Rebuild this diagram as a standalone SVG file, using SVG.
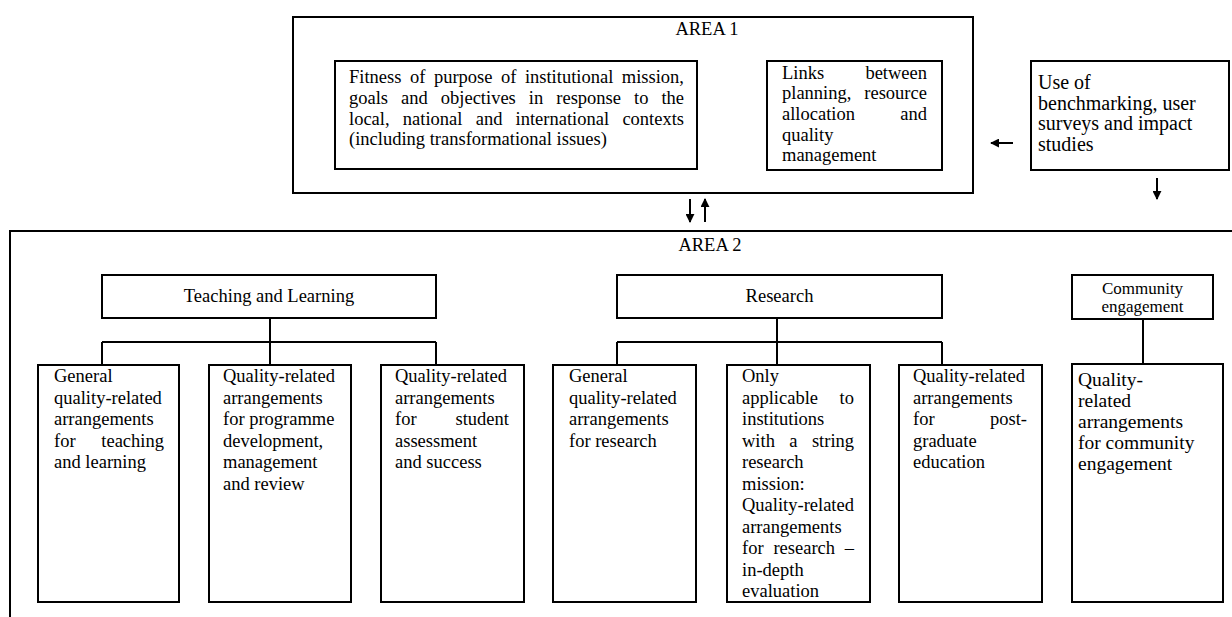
<svg xmlns="http://www.w3.org/2000/svg" width="1232" height="617" viewBox="0 0 1232 617">
  <style>
    text { font-family: "Liberation Serif", "Times New Roman", serif; font-size: 18.5px; fill: #000; }
    .box { fill: #fff; stroke: #000; stroke-width: 2; }
    .frame { fill: none; stroke: #000; stroke-width: 2; }
    .link { fill: none; stroke: #000; stroke-width: 2; }
    .arrow { fill: none; stroke: #000; stroke-width: 2; marker-end: url(#head); }
    .c { text-anchor: middle; }
    .small { font-size: 17px; }
    .large { font-size: 20px; }
    .mid { font-size: 19.5px; }
  </style>
  <defs>
    <marker id="head" viewBox="0 0 10 10" refX="9" refY="5" markerWidth="4.5" markerHeight="4.5" orient="auto" markerUnits="strokeWidth">
      <path d="M0,0 L10,5 L0,10 Z" fill="#000"/>
    </marker>
  </defs>

  <!-- Area 1 frame -->
  <g id="area1">
    <rect class="frame" x="293" y="17" width="680" height="176"/>
    <text class="c" x="707" y="35">AREA 1</text>
  </g>

  <g id="fitness">
    <rect class="box" x="335" y="61" width="362" height="108"/>
    <text y="83"><tspan x="349">Fitness</tspan><tspan x="409.9">of</tspan><tspan x="433.9">purpose</tspan><tspan x="500.9">of</tspan><tspan x="524.9">institutional</tspan><tspan x="621.8">mission,</tspan></text>
    <text y="104"><tspan x="349">goals</tspan><tspan x="401.1">and</tspan><tspan x="440.8">objectives</tspan><tspan x="528.8">in</tspan><tspan x="556.3">response</tspan><tspan x="634">to</tspan><tspan x="661.4">the</tspan></text>
    <text y="124.5"><tspan x="349">local,</tspan><tspan x="402.8">national</tspan><tspan x="475.7">and</tspan><tspan x="515.6">international</tspan><tspan x="622.4">contexts</tspan></text>
    <text x="349" y="145">(including transformational issues)</text>
  </g>

  <g id="links">
    <rect class="box" x="767" y="61" width="175" height="109"/>
    <text y="78.5"><tspan x="782">Links</tspan><tspan x="865.4">between</tspan></text>
    <text y="99.2"><tspan x="782">planning,</tspan><tspan x="864.3">resource</tspan></text>
    <text y="119.8"><tspan x="782">allocation</tspan><tspan x="900.3">and</tspan></text>
    <text x="782" y="140.5">quality</text>
    <text x="782" y="161">management</text>
  </g>

  <g id="benchmarking">
    <rect class="box" x="1031" y="61" width="198" height="109"/>
    <text class="large" x="1038" y="89">Use of</text>
    <text class="large" x="1038" y="109.5">benchmarking, user</text>
    <text class="large" x="1038" y="130">surveys and impact</text>
    <text class="large" x="1038" y="150.5">studies</text>
  </g>

  <!-- Area 2 frame (continues past the right and bottom edges) -->
  <g id="area2">
    <rect class="frame" x="10" y="231" width="1240" height="420"/>
    <text class="c" x="710" y="251">AREA 2</text>
  </g>

  <g id="teaching">
    <rect class="box" x="102" y="275" width="334" height="43"/>
    <text class="c" x="269" y="302">Teaching and Learning</text>
  </g>

  <g id="research">
    <rect class="box" x="617" y="275" width="325" height="43"/>
    <text class="c" x="779.5" y="302">Research</text>
  </g>

  <g id="community">
    <rect class="box" x="1072" y="275" width="141" height="44"/>
    <text class="c small" x="1142.5" y="294">Community</text>
    <text class="c small" x="1142.5" y="312">engagement</text>
  </g>

  <g id="tl-general">
    <rect class="box" x="38" y="365" width="141" height="237"/>
    <text x="54" y="382">General</text>
    <text x="54" y="403.5">quality-related</text>
    <text x="54" y="425">arrangements</text>
    <text y="446.5"><tspan x="54">for</tspan><tspan x="101.3">teaching</tspan></text>
    <text x="54" y="468">and learning</text>
  </g>

  <g id="tl-programme">
    <rect class="box" x="209" y="365" width="142" height="237"/>
    <text x="223" y="382">Quality-related</text>
    <text x="223" y="403.5">arrangements</text>
    <text x="223" y="425">for programme</text>
    <text x="223" y="446.5">development,</text>
    <text x="223" y="468">management</text>
    <text x="223" y="489.5">and review</text>
  </g>

  <g id="tl-assessment">
    <rect class="box" x="381" y="365" width="143" height="237"/>
    <text x="395" y="382">Quality-related</text>
    <text x="395" y="403.5">arrangements</text>
    <text y="425"><tspan x="395">for</tspan><tspan x="455.5">student</tspan></text>
    <text x="395" y="446.5">assessment</text>
    <text x="395" y="468">and success</text>
  </g>

  <g id="r-general">
    <rect class="box" x="553" y="365" width="143" height="237"/>
    <text x="569" y="382">General</text>
    <text x="569" y="403.5">quality-related</text>
    <text x="569" y="425">arrangements</text>
    <text x="569" y="446.5">for research</text>
  </g>

  <g id="r-indepth">
    <rect class="box" x="727" y="365" width="143" height="237"/>
    <text x="742" y="382">Only</text>
    <text y="403.5"><tspan x="742">applicable</tspan><tspan x="839.6">to</tspan></text>
    <text x="742" y="425">institutions</text>
    <text y="446.5"><tspan x="742">with</tspan><tspan x="789.3">a</tspan><tspan x="811.9">string</tspan></text>
    <text x="742" y="468">research</text>
    <text x="742" y="489.5">mission:</text>
    <text x="742" y="511">Quality-related</text>
    <text x="742" y="532.5">arrangements</text>
    <text y="554"><tspan x="742">for</tspan><tspan x="773.4">research</tspan><tspan x="844.8">–</tspan></text>
    <text x="742" y="575.5">in-depth</text>
    <text x="742" y="597">evaluation</text>
  </g>

  <g id="r-postgrad">
    <rect class="box" x="899" y="365" width="143" height="237"/>
    <text x="913" y="382">Quality-related</text>
    <text x="913" y="403.5">arrangements</text>
    <text y="425"><tspan x="913">for</tspan><tspan x="990">post-</tspan></text>
    <text x="913" y="446.5">graduate</text>
    <text x="913" y="468">education</text>
  </g>

  <g id="ce-arrangements">
    <rect class="box" x="1072" y="364" width="151" height="238"/>
    <text class="mid" x="1078" y="386">Quality-</text>
    <text class="mid" x="1078" y="407">related</text>
    <text class="mid" x="1078" y="428">arrangements</text>
    <text class="mid" x="1078" y="449">for community</text>
    <text class="mid" x="1078" y="470">engagement</text>
  </g>

  <!-- connectors -->
  <g id="connectors">
    <path class="link" d="M270,318 V342 M102,342 H436 M102,342 V365 M270,342 V365 M436,342 V365"/>
    <path class="link" d="M777,318 V342 M617,342 H942 M617,342 V365 M777,342 V365 M942,342 V365"/>
    <path class="link" d="M1143,319 V364"/>
    <path class="arrow" d="M1013,143 H991"/>
    <path class="arrow" d="M1157,178 V199"/>
    <path class="arrow" d="M690,199 V222"/>
    <path class="arrow" d="M705,222 V199"/>
  </g>
</svg>
